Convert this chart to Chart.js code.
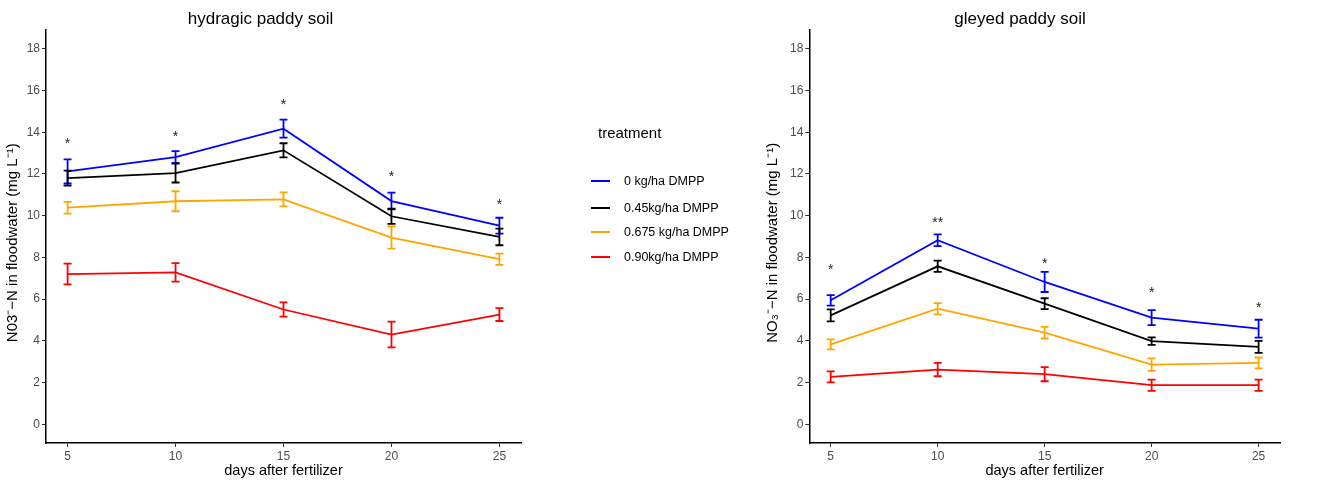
<!DOCTYPE html>
<html><head><meta charset="utf-8">
<script src="https://cdn.jsdelivr.net/npm/chart.js@4.4.1/dist/chart.umd.min.js"></script>
<style>
html,body{margin:0;padding:0;overflow:hidden}
body{background:#fff;width:1326px;height:480px;position:relative;font-family:"Liberation Sans",Arial,sans-serif}
#c1{position:absolute;left:0;top:0}
#c2{position:absolute;left:760px;top:0}
#legend{position:absolute;left:0;top:0;width:1326px;height:480px;pointer-events:none}
#legend .ttl{position:absolute;left:598px;top:124px;font-size:15px;line-height:18px;color:#000;white-space:nowrap}
#legend .item{position:absolute;left:591px;height:16px;white-space:nowrap}
#legend .sw{position:absolute;left:0;top:7px;width:19px;height:2px}
#legend .lab{position:absolute;left:33px;top:0;font-size:12.5px;line-height:16px;color:#000}
</style></head><body>
<canvas id="c1" width="542" height="480"></canvas>
<canvas id="c2" width="578" height="480"></canvas>
<div id="legend"></div>
<script>
// ---- data ----
const days = [5, 10, 15, 20, 25];
const yTicks = [0, 2, 4, 6, 8, 10, 12, 14, 16, 18];
const treatments = ['0 kg/ha DMPP', '0.45kg/ha DMPP', '0.675 kg/ha DMPP', '0.90kg/ha DMPP'];
const colors = ['#0000ff', '#000000', '#ffa500', '#ff0000'];

// hydragic paddy soil: means and error (±)
const hyd_0     = [12.12, 12.81, 14.17, 10.70, 9.52];
const hyd_0_err = [0.58, 0.28, 0.43, 0.40, 0.38];
const hyd_045     = [11.80, 12.04, 13.13, 9.97, 8.98];
const hyd_045_err = [0.36, 0.45, 0.34, 0.36, 0.40];
const hyd_0675     = [10.38, 10.69, 10.78, 8.95, 7.91];
const hyd_0675_err = [0.28, 0.48, 0.34, 0.53, 0.27];
const hyd_090     = [7.20, 7.28, 5.50, 4.30, 5.26];
const hyd_090_err = [0.50, 0.44, 0.34, 0.62, 0.31];
const hyd_stars   = ['*', '*', '*', '*', '*'];
const hyd_starY   = [13.64, 13.96, 15.50, 12.04, 10.70];

// gleyed paddy soil: means and error (±)
const gle_0     = [5.94, 8.82, 6.82, 5.11, 4.58];
const gle_0_err = [0.25, 0.28, 0.48, 0.36, 0.43];
const gle_045     = [5.22, 7.57, 5.78, 3.98, 3.71];
const gle_045_err = [0.29, 0.27, 0.26, 0.18, 0.29];
const gle_0675     = [3.83, 5.54, 4.39, 2.86, 2.94];
const gle_0675_err = [0.24, 0.27, 0.28, 0.30, 0.26];
const gle_090     = [2.27, 2.62, 2.40, 1.87, 1.87];
const gle_090_err = [0.26, 0.32, 0.34, 0.27, 0.27];
const gle_stars   = ['*', '**', '*', '*', '*'];
const gle_starY   = [7.57, 9.82, 7.86, 6.50, 5.75];

const FONT = '"Liberation Sans", Arial, sans-serif';

function makeDatasets(means, errs) {
  return means.map((m, i) => ({
    label: treatments[i],
    data: days.map((d, j) => ({ x: d, y: m[j] })),
    errors: errs[i],
    borderColor: colors[i],
    backgroundColor: colors[i],
    borderWidth: 1.8,
    pointRadius: 0,
    tension: 0,
    fill: false
  }));
}

const errorBarPlugin = {
  id: 'errorBars',
  afterDatasetsDraw(chart) {
    const ctx = chart.ctx;
    const xs = chart.scales.x, ys = chart.scales.y;
    ctx.save();
    chart.data.datasets.forEach((ds, i) => {
      ctx.strokeStyle = ds.borderColor;
      ctx.lineWidth = 1.8;
      ds.data.forEach((p, j) => {
        const e = ds.errors[j];
        const x = xs.getPixelForValue(p.x);
        const yt = ys.getPixelForValue(p.y + e);
        const yb = ys.getPixelForValue(p.y - e);
        ctx.beginPath();
        ctx.moveTo(x, yt); ctx.lineTo(x, yb);
        ctx.moveTo(x - 4, yt); ctx.lineTo(x + 4, yt);
        ctx.moveTo(x - 4, yb); ctx.lineTo(x + 4, yb);
        ctx.stroke();
      });
    });
    ctx.restore();
  }
};

const starPlugin = {
  id: 'stars',
  afterDatasetsDraw(chart, args, opts) {
    const ctx = chart.ctx;
    const xs = chart.scales.x, ys = chart.scales.y;
    ctx.save();
    ctx.fillStyle = '#222';
    ctx.font = '14px ' + FONT;
    ctx.textAlign = 'center';
    ctx.textBaseline = 'alphabetic';
    opts.labels.forEach((s, j) => {
      const x = xs.getPixelForValue(days[j]);
      const y = ys.getPixelForValue(opts.values[j]);
      ctx.fillText(s, x, y + 0.57 * 14);
    });
    ctx.restore();
  }
};

function makeChart(id, title, yTitle, datasets, yAxisWidth, rightPad, stars, starY) {
  return new Chart(document.getElementById(id), {
    type: 'line',
    data: { datasets },
    plugins: [errorBarPlugin, starPlugin],
    options: {
      responsive: false,
      animation: false,
      layout: { padding: { left: 0, right: rightPad, top: 0, bottom: 0 } },
      plugins: {
        legend: { display: false },
        tooltip: { enabled: false },
        title: {
          display: true, text: title, color: '#000',
          font: { family: FONT, size: 17, weight: 'normal' },
          padding: { top: 8.8, bottom: 0.8 }
        },
        stars: { labels: stars, values: starY }
      },
      scales: {
        x: {
          type: 'linear', min: 4, max: 26,
          afterBuildTicks: s => { s.ticks = days.map(v => ({ value: v })); },
          afterFit: s => { s.height = 37; },
          ticks: { color: '#4d4d4d', font: { family: FONT, size: 12 }, padding: 2, maxRotation: 0 },
          grid: { drawOnChartArea: false, drawTicks: true, tickLength: 4, tickColor: '#333', tickWidth: 1 },
          border: { display: true, color: '#000', width: 1.5 },
          title: { display: true, text: 'days after fertilizer', color: '#000',
                   font: { family: FONT, size: 14.5 }, padding: { top: 0, bottom: 0.6 } }
        },
        y: {
          type: 'linear', min: -0.9, max: 18.9,
          afterBuildTicks: s => { s.ticks = yTicks.map(v => ({ value: v })); },
          afterFit: s => { s.width = yAxisWidth; },
          ticks: { color: '#4d4d4d', font: { family: FONT, size: 12 }, padding: 2 },
          grid: { drawOnChartArea: false, drawTicks: true, tickLength: 4, tickColor: '#333', tickWidth: 1 },
          border: { display: true, color: '#000', width: 1.5 },
          title: { display: true, text: yTitle, color: '#000',
                   font: { family: FONT, size: 15 }, padding: { top: 4, bottom: 0 } }
        }
      }
    }
  });
}

makeChart('c1', 'hydragic paddy soil', 'N03\u207B\u2212N in floodwater (mg L\u207B\u00B9)\u00A0\u00A0\u00A0',
  makeDatasets([hyd_0, hyd_045, hyd_0675, hyd_090], [hyd_0_err, hyd_045_err, hyd_0675_err, hyd_090_err]),
  46, 21, hyd_stars, hyd_starY);
makeChart('c2', 'gleyed paddy soil', 'NO\u2083\u207B\u2212N in floodwater (mg L\u207B\u00B9)\u00A0\u00A0\u00A0',
  makeDatasets([gle_0, gle_045, gle_0675, gle_090], [gle_0_err, gle_045_err, gle_0675_err, gle_090_err]),
  49.3, 58, gle_stars, gle_starY);

// legend
const lg = document.getElementById('legend');
const t = document.createElement('div'); t.className = 'ttl'; t.textContent = 'treatment'; lg.appendChild(t);
const itemY = [181, 207.7, 232.3, 256.7];
treatments.forEach((name, i) => {
  const it = document.createElement('div'); it.className = 'item';
  it.style.top = (itemY[i] - 8) + 'px';
  const sw = document.createElement('div'); sw.className = 'sw'; sw.style.background = colors[i];
  const lb = document.createElement('div'); lb.className = 'lab'; lb.textContent = name;
  it.appendChild(sw); it.appendChild(lb); lg.appendChild(it);
});
</script>
</body></html>
